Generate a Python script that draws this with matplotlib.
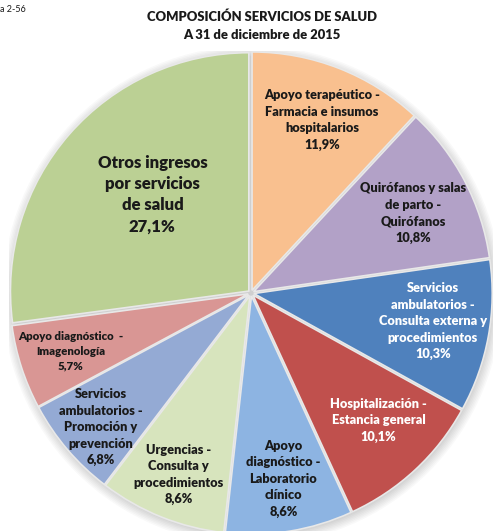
import numpy as np
import matplotlib
matplotlib.use("Agg")
import matplotlib.pyplot as plt
from matplotlib.patches import Circle

plt.rcParams['font.family'] = ['Lato', 'DejaVu Sans']

categories = [
    "Apoyo terapéutico -\nFarmacia e insumos\nhospitalarios",
    "Quirófanos y salas\nde parto -\nQuirófanos",
    "Servicios\nambulatorios -\nConsulta externa y\nprocedimientos",
    "Hospitalización -\nEstancia general",
    "Apoyo\ndiagnóstico -\nLaboratorio\nclínico",
    "Urgencias -\nConsulta y\nprocedimientos",
    "Servicios\nambulatorios -\nPromoción y\nprevención",
    "Apoyo diagnóstico  -\nImagenología",
    "Otros ingresos\npor servicios\nde salud",
]
values = [11.9, 10.8, 10.3, 10.1, 8.6, 8.6, 6.8, 5.7, 27.1]
value_labels = ["11,9%", "10,8%", "10,3%", "10,1%", "8,6%", "8,6%", "6,8%", "5,7%", "27,1%"]

colors = ["#F9C08F", "#B2A1C7", "#4F81BD", "#C0504D", "#8DB4E2",
          "#D7E4BD", "#94AAD4", "#D99694", "#BBD094"]
text_colors = ["#1a1a1a", "#1a1a1a", "white", "white", "#1a1a1a",
               "#1a1a1a", "#1a1a1a", "#1a1a1a", "#1a1a1a"]
# label placement: radius fraction and angle offset (deg) from the wedge middle
label_radius = [0.773, 0.747, 0.761, 0.745, 0.78, 0.808, 0.833, 0.783, 0.576]
label_dangle = [-0.9, -1.4, 1.5, 2.2, 0.7, 0.0, 1.3, 0.0, -3.8]
font_sizes = [9.2, 9.2, 9.2, 9.2, 9.2, 9.2, 9.2, 8.2, 12]
line_sp = [1.45, 1.45, 1.45, 1.45, 1.45, 1.45, 1.45, 1.45, 1.4]

W, H = 494, 531
fig = plt.figure(figsize=(W / 100, H / 100), dpi=100)
cx, cy, R = 251, 293, 242
ax = fig.add_axes([(cx - R) / W, (H - cy - R) / H, 2 * R / W, 2 * R / H])

# soft shadow
for i in range(8):
    ax.add_patch(Circle((0.005, -0.01), 0.99 + i * 0.006, color='black',
                        alpha=0.025, zorder=0, lw=0))

wedges, _ = ax.pie(values, colors=colors, startangle=90, counterclock=False,
                   radius=0.985, explode=[0.012] * len(values),
                   wedgeprops=dict(edgecolor='#e8e8e8', linewidth=1.2))
for w in wedges:
    w.set_zorder(2)
ax.set_xlim(-1, 1)
ax.set_ylim(-1, 1)
ax.set_aspect('equal')
ax.axis('off')

total = sum(values)
ang = 90.0
for i, v in enumerate(values):
    span = v / total * 360
    mid = np.deg2rad(ang - span / 2 + label_dangle[i])
    ang -= span
    r = label_radius[i]
    ax.text(r * np.cos(mid), r * np.sin(mid), categories[i] + "\n" + value_labels[i],
            ha='center', va='center', fontsize=font_sizes[i], fontweight='heavy',
            color=text_colors[i], linespacing=line_sp[i], zorder=5)

fig.text(262 / W, 1 - 17 / H, "COMPOSICIÓN SERVICIOS DE SALUD", ha='center', va='center',
         fontsize=9.4, fontweight='heavy', color='#1a1a1a')
fig.text(262 / W, 1 - 35 / H, "A 31 de diciembre de 2015", ha='center', va='center',
         fontsize=9.4, fontweight='heavy', color='#1a1a1a')
fig.text(0, 1 - 10 / H, "a 2-56", ha='left', va='center', fontsize=6.5, color='#1a1a1a')

fig.savefig("out.png", dpi=100, facecolor='white')
